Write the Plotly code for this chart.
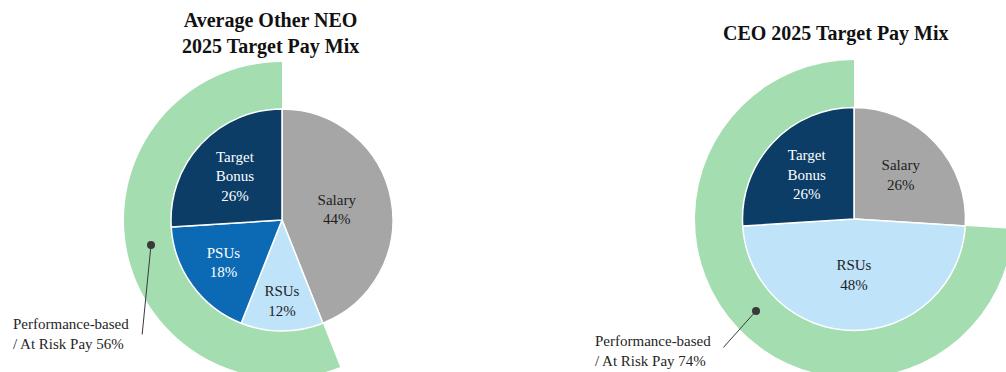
import plotly.graph_objects as go

# ---------------- data ----------------
neo_labels = ["Salary", "RSUs", "PSUs", "Target<br>Bonus"]
neo_values = [44, 12, 18, 26]
neo_at_risk = 56

ceo_labels = ["Salary", "RSUs", "Target<br>Bonus"]
ceo_values = [26, 48, 26]
ceo_at_risk = 74

title_neo = "Average Other NEO<br>2025 Target Pay Mix"
title_ceo = "CEO 2025 Target Pay Mix"
callout_text = "Performance-based<br>/ At Risk Pay {}%"

# ---------------- style ----------------
W, H = 1016, 384
FONT = "Liberation Serif, Times New Roman, serif"
GREEN = "#a3ddb0"
COL = {"Salary": "#a6a6a6", "RSUs": "#bfe3f9", "PSUs": "#0b6ab3", "Target<br>Bonus": "#0c3d67"}
TXT = {"Salary": "#1e1e1e", "RSUs": "#1e1e1e", "PSUs": "#ffffff", "Target<br>Bonus": "#ffffff"}


def dom(cx, cy, r):
    return dict(x=[(cx - r) / W, (cx + r) / W],
                y=[max(0, (H - (cy + r)) / H), (H - (cy - r)) / H])


fig = go.Figure()


def add_chart(labels, values, at_risk, cx, cy, r_in, r_out):
    # outer at-risk sector (behind): fixed part clockwise from 12 o'clock, then at-risk part
    fig.add_trace(go.Pie(
        values=[100 - at_risk, at_risk], labels=["Fixed", "At Risk"],
        marker=dict(colors=["rgba(0,0,0,0)", GREEN], line=dict(width=0)),
        sort=False, direction="clockwise", rotation=0,
        textinfo="none", hoverinfo="skip", showlegend=False,
        domain=dom(cx, cy, r_out)))
    # inner pay mix pie
    fig.add_trace(go.Pie(
        values=values, labels=labels,
        marker=dict(colors=[COL[l] for l in labels], line=dict(color="white", width=1.5)),
        sort=False, direction="clockwise", rotation=0,
        texttemplate="%{label}<br>%{value}%", textposition="inside",
        insidetextorientation="horizontal",
        insidetextfont=dict(family=FONT, size=15, color=[TXT[l] for l in labels]),
        hoverinfo="label+value", showlegend=False,
        domain=dom(cx, cy, r_in)))


add_chart(neo_labels, neo_values, neo_at_risk, 282, 220, 111, 158)
add_chart(ceo_labels, ceo_values, ceo_at_risk, 854, 219, 111.5, 159)


def px(x, y):
    return x / W, 1 - y / H


annotations = []
# titles
for txt, x, y in [(title_neo, 270, 34), (title_ceo, 836, 33)]:
    ax_, ay_ = px(x, y)
    annotations.append(dict(text="<b>" + txt + "</b>", x=ax_, y=ay_, xref="paper", yref="paper",
                            xanchor="center", yanchor="middle", showarrow=False,
                            font=dict(family=FONT, size=20, color="#111111")))
# callouts
for val, tx, ty, dot, tail in [(neo_at_risk, 11, 334, (151, 245), (142, 336)),
                               (ceo_at_risk, 593, 351, (756, 311), (722, 349))]:
    x_, y_ = px(tx, ty)
    annotations.append(dict(text=callout_text.format(val), x=x_, y=y_, xref="paper", yref="paper",
                            xanchor="left", yanchor="middle", align="left", showarrow=False,
                            font=dict(family=FONT, size=15, color="#262626")))
    dx, dy = px(*dot)
    annotations.append(dict(text="", x=dx, y=dy, xref="paper", yref="paper",
                            ax=tail[0] - dot[0], ay=tail[1] - dot[1],
                            showarrow=True, arrowhead=6, arrowsize=2, arrowwidth=1,
                            arrowcolor="#3a3a3a"))

fig.update_layout(
    width=W, height=H, margin=dict(l=0, r=0, t=0, b=0),
    paper_bgcolor="white", plot_bgcolor="white",
    annotations=annotations, showlegend=False,
)

fig.write_html("out.html",
               post_script="document.body.style.margin='0';document.body.style.overflow='hidden';")
